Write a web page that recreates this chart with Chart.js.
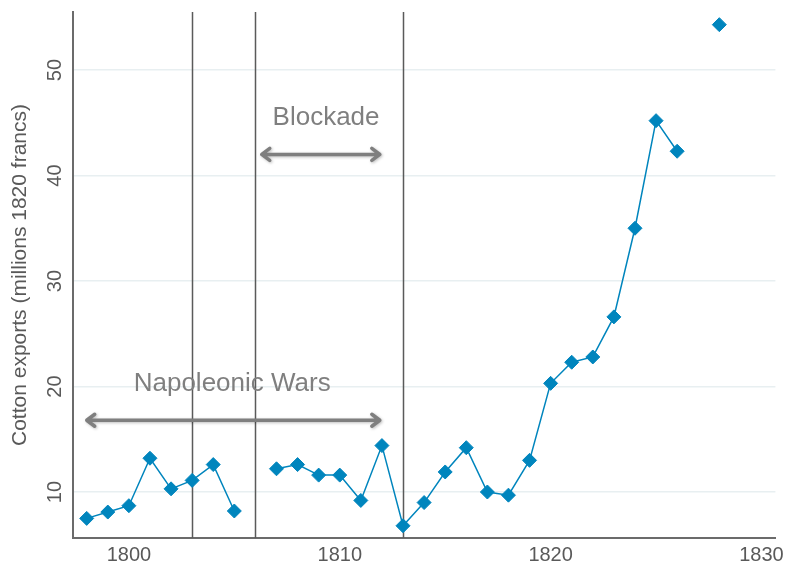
<!DOCTYPE html>
<html>
<head>
<meta charset="utf-8">
<script src="https://cdn.jsdelivr.net/npm/chart.js"></script>
<style>
  html, body { margin: 0; padding: 0; background: #fff; }
  #wrap { width: 789px; height: 571px; position: relative; }
</style>
</head>
<body>
<div id="wrap"><canvas id="cotton"></canvas></div>
<script>
// --- data ---
const years = [1798, 1799, 1800, 1801, 1802, 1803, 1804, 1805, 1806, 1807, 1808, 1809, 1810,
  1811, 1812, 1813, 1814, 1815, 1816, 1817, 1818, 1819, 1820, 1821, 1822, 1823, 1824, 1825,
  1826, 1827, 1828];
const cottonExports = [7.5, 8.1, 8.7, 13.2, 10.3, 11.1, 12.6, 8.2, null, 12.2, 12.6, 11.6, 11.6,
  9.2, 14.4, 6.8, 9.0, 11.9, 14.2, 10.0, 9.7, 13.0, 20.3, 22.3, 22.8, 26.6, 35.0, 45.2,
  42.3, null, 54.3];
const xTicks = [1800, 1810, 1820, 1830];
const yTicks = [10, 20, 30, 40, 50];
const periodLines = [1803, 1806, 1813];

// period arrows (in data units)
const spanNames = ['Blockade', 'Napoleonic Wars'];
const spanStart = [1806.3, 1798.0];
const spanEnd = [1811.9, 1811.9];
const spanLevel = [42.0, 16.8];

// where the span labels sit (data units)
const labelPos = [{ x: 1809.35, y: 45.5 }, { x: 1804.9, y: 20.3 }];

const FONT = "'Liberation Sans', Arial, sans-serif";
const BLUE = '#0085bd';

const periodPlugin = {
  id: 'periodLines',
  beforeDatasetsDraw(chart) {
    const { ctx, chartArea, scales: { x } } = chart;
    ctx.save();
    ctx.strokeStyle = '#5a5a5a';
    ctx.lineWidth = 1.5;
    periodLines.forEach(yr => {
      const px = Math.round(x.getPixelForValue(yr)) + 0.5;
      ctx.beginPath();
      ctx.moveTo(px, chartArea.top);
      ctx.lineTo(px, chartArea.bottom);
      ctx.stroke();
    });
    ctx.restore();
  },
  afterDatasetsDraw(chart) {
    const { ctx, scales: { x, y } } = chart;
    ctx.save();
    // arrows
    ctx.strokeStyle = '#7f7f7f';
    ctx.lineWidth = 3.5;
    ctx.lineCap = 'round';
    ctx.lineJoin = 'round';
    ctx.shadowColor = 'rgba(0,0,0,0.25)';
    ctx.shadowBlur = 3;
    ctx.shadowOffsetX = 1;
    ctx.shadowOffsetY = 1;
    spanNames.forEach((name, i) => {
      const x0 = x.getPixelForValue(spanStart[i]);
      const x1 = x.getPixelForValue(spanEnd[i]);
      const py = y.getPixelForValue(spanLevel[i]);
      ctx.beginPath();
      ctx.moveTo(x0, py);
      ctx.lineTo(x1, py);
      ctx.moveTo(x0 + 8, py - 6);
      ctx.lineTo(x0, py);
      ctx.lineTo(x0 + 8, py + 6);
      ctx.moveTo(x1 - 8, py - 6);
      ctx.lineTo(x1, py);
      ctx.lineTo(x1 - 8, py + 6);
      ctx.stroke();
    });
    ctx.shadowColor = 'transparent';
    // labels
    ctx.fillStyle = '#7f7f7f';
    ctx.font = '26px ' + FONT;
    ctx.textAlign = 'center';
    ctx.textBaseline = 'middle';
    spanNames.forEach((name, i) => {
      ctx.fillText(name, x.getPixelForValue(labelPos[i].x), y.getPixelForValue(labelPos[i].y));
    });
    ctx.restore();
  },
  afterDraw(chart) {
    // rotated y tick labels
    const { ctx, scales: { y } } = chart;
    ctx.save();
    ctx.fillStyle = '#595959';
    ctx.font = '20px ' + FONT;
    ctx.textAlign = 'center';
    ctx.textBaseline = 'middle';
    y.ticks.forEach(t => {
      const py = y.getPixelForValue(t.value);
      ctx.save();
      ctx.translate(55, py);
      ctx.rotate(-Math.PI / 2);
      ctx.fillText(String(t.value), 0, 0);
      ctx.restore();
    });
    ctx.restore();
  }
};

new Chart(document.getElementById('cotton'), {
  type: 'line',
  data: {
    datasets: [{
      data: years.map((yr, i) => ({ x: yr, y: cottonExports[i] })),
      borderColor: BLUE,
      backgroundColor: BLUE,
      borderWidth: 1.5,
      pointStyle: 'rectRot',
      pointRadius: 7,
      pointHoverRadius: 7,
      pointBorderWidth: 1,
      spanGaps: false,
      tension: 0
    }]
  },
  options: {
    responsive: true,
    maintainAspectRatio: false,
    animation: false,
    layout: { padding: { top: 12, right: 13, left: 0, bottom: 0 } },
    plugins: { legend: { display: false }, tooltip: { enabled: false } },
    scales: {
      x: {
        type: 'linear',
        min: 1797.35,
        max: 1830.66,
        afterBuildTicks: s => { s.ticks = xTicks.map(v => ({ value: v })); },
        afterFit: s => { s.height = 33; },
        grid: { display: false, drawTicks: false },
        border: { display: true, color: '#6b6b6b', width: 2 },
        ticks: {
          color: '#595959',
          font: { family: FONT, size: 20 },
          padding: 5,
          maxRotation: 0,
          callback: v => String(v)
        }
      },
      y: {
        type: 'linear',
        min: 5.64,
        max: 55.5,
        afterBuildTicks: s => { s.ticks = yTicks.map(v => ({ value: v })); },
        afterFit: s => { s.width = 73; },
        grid: { color: '#e8eff1', lineWidth: 1.5, drawTicks: false },
        border: { display: true, color: '#6b6b6b', width: 2 },
        ticks: { display: false },
        title: {
          display: true,
          text: 'Cotton exports (millions 1820 francs)',
          color: '#595959',
          font: { family: FONT, size: 21 },
          padding: { top: 8, bottom: 0 }
        }
      }
    }
  },
  plugins: [periodPlugin]
});
</script>
</body>
</html>
